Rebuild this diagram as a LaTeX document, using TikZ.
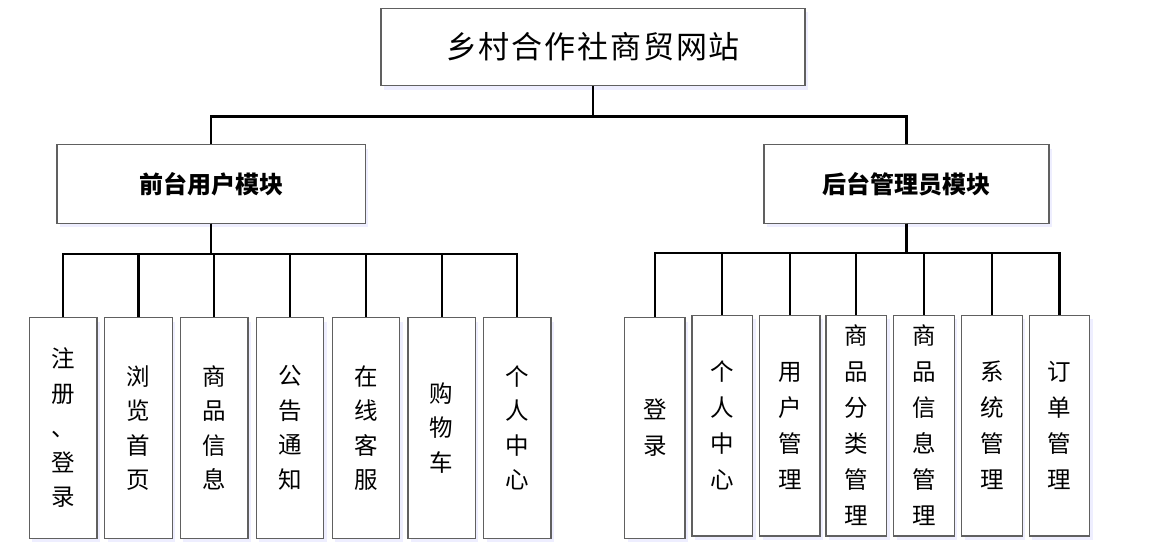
\documentclass[tikz,border=0pt]{standalone}
\usepackage{fontspec}
\newfontfamily\cjk{Noto Sans CJK SC}
\newfontfamily\cjktitle[LetterSpace=6]{Noto Sans CJK SC}
\usetikzlibrary{shadows}
\tikzset{
  box/.style={draw=gray!75!black, line width=1.2pt, fill=white, inner sep=0pt, align=center,
    drop shadow={shadow xshift=3pt, shadow yshift=-4pt, fill=blue!35!white, opacity=0.18}},
  titlebox/.style={box, minimum width=424pt, minimum height=77.5pt, font=\cjktitle\fontsize{31}{36}\selectfont},
  modbox/.style={box, minimum height=78.5pt, font=\cjk\bfseries\fontsize{24}{30}\selectfont},
  leafL/.style={box, minimum width=67.5pt, minimum height=220.6pt, font=\cjk\fontsize{23.5}{34.5}\selectfont},
  leafR/.style={box, minimum width=60.5pt, minimum height=220.6pt, font=\cjk\fontsize{23.5}{36}\selectfont},
  conn/.style={line width=2.3pt, black}
}
\begin{document}
\begin{tikzpicture}[x=1pt, y=-1pt]
\useasboundingbox[fill=white] (0,0) rectangle (1157,557);
\node[titlebox] (top) at (593,47) {乡村合作社商贸网站};
\node[modbox, minimum width=308.5pt] (L) at (211.2,184) {前台用户模块};
\node[modbox, minimum width=285pt] (R) at (906.5,184) {后台管理员模块};
% left leaves
\node[leafL] (l1) at (63.2,428) {注\\册\\、\\登\\录};
\node[leafL] (l2) at (138.5,428) {浏\\览\\首\\页};
\node[leafL] (l3) at (214.2,428) {商\\品\\信\\息};
\node[leafL] (l4) at (290.1,428) {公\\告\\通\\知};
\node[leafL] (l5) at (366,428) {在\\线\\客\\服};
\node[leafL] (l6) at (441.7,428) {购\\物\\车};
\node[leafL] (l7) at (517.3,428) {个\\人\\中\\心};
% right leaves
\node[leafR] (r1) at (654.8,428) {登\\录};
\node[leafR] (r2) at (722.3,425.6) {个\\人\\中\\心};
\node[leafR] (r3) at (789.8,425.6) {用\\户\\管\\理};
\node[leafR] (r4) at (856.3,425.6) {商\\品\\分\\类\\管\\理};
\node[leafR] (r5) at (924,425.6) {商\\品\\信\\息\\管\\理};
\node[leafR] (r6) at (991.9,425.6) {系\\统\\管\\理};
\node[leafR] (r7) at (1059.5,425.6) {订\\单\\管\\理};
% connectors
\draw[conn] (top.south) -- ++(0,30) -| (L.north);
\draw[conn] (top.south) ++(0,30) -| (R.north);
\foreach \n in {l1,l2,l3,l4,l5,l6,l7}
  \draw[conn] (L.south) -- ++(0,30) -| (\n.north);
\foreach \n in {r1,r2,r3,r4,r5,r6,r7}
  \draw[conn] (R.south) -- ++(0,29) -| (\n.north);
\end{tikzpicture}
\end{document}
